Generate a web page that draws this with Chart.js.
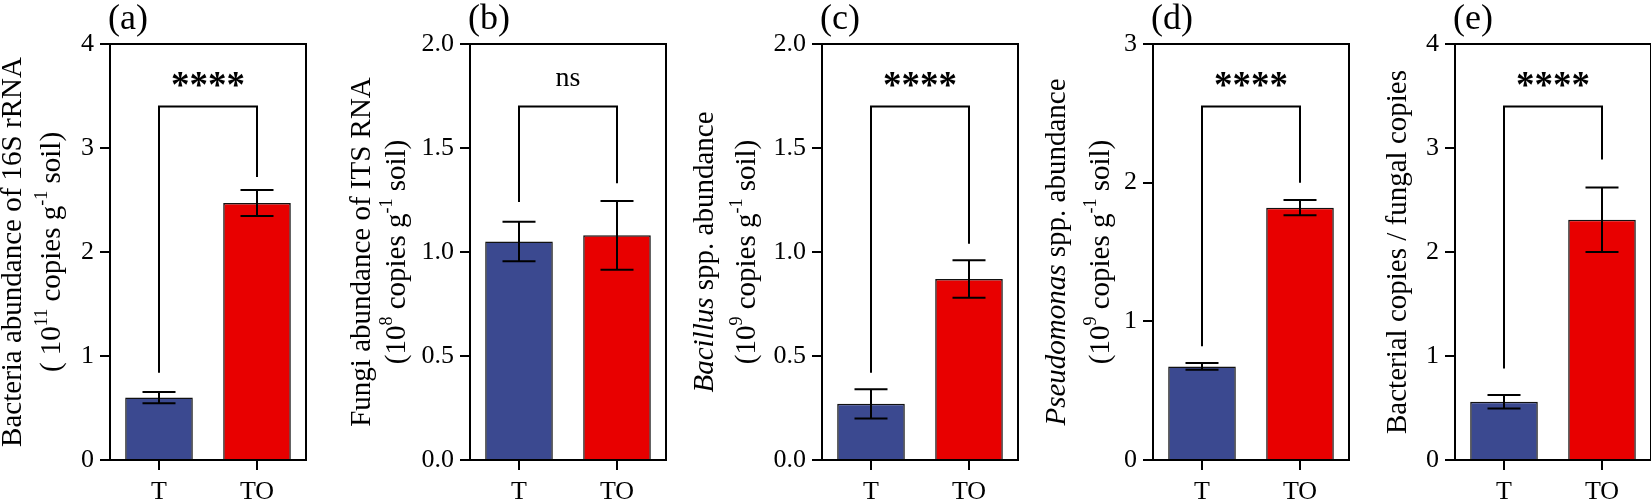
<!DOCTYPE html>
<html>
<head>
<meta charset="utf-8">
<script src="https://cdn.jsdelivr.net/npm/chart.js@4.4.1/dist/chart.umd.min.js"></script>
<style>
  html, body { margin: 0; padding: 0; background: #fff; }
  #wrap { position: relative; width: 1651px; height: 500px; overflow: hidden; }
  #wrap canvas { position: absolute; top: 0; }
</style>
</head>
<body>
<div id="wrap"></div>
<script>
// ---- data ----
const groups = ['T', 'TO'];
const panelLabels = ['(a)', '(b)', '(c)', '(d)', '(e)'];

const bacteriaMean = [0.60, 2.47];
const bacteriaErr  = [0.055, 0.125];
const fungiMean    = [1.05, 1.08];
const fungiErr     = [0.095, 0.165];
const bacillusMean = [0.27, 0.87];
const bacillusErr  = [0.07, 0.09];
const pseudoMean   = [0.675, 1.82];
const pseudoErr    = [0.025, 0.055];
const ratioMean    = [0.56, 2.31];
const ratioErr     = [0.065, 0.31];

const yMax  = [4, 2, 2, 3, 4];
const yStep = [1, 0.5, 0.5, 1, 1];
const yDecimals = [0, 1, 1, 0, 0];

// bracket: top, left foot, right foot
const bracketTop   = [3.40, 1.70, 1.70, 2.55, 3.40];
const bracketLeft  = [0.84, 1.24, 0.42, 0.82, 0.88];
const bracketRight = [2.72, 1.33, 1.04, 2.00, 2.89];
const sigLabels = ['****', 'ns', '****', '****', '****'];

const yTitles = [
  ['Bacteria abundance of 16S rRNA', '( 10<sup>11</sup> copies g<sup>-1</sup> soil)'],
  ['Fungi abundance of ITS RNA', '(10<sup>8</sup> copies g<sup>-1</sup> soil)'],
  ['<i>Bacillus</i> spp. abundance', '(10<sup>9</sup> copies g<sup>-1</sup> soil)'],
  ['<i>Pseudomonas</i> spp. abundance', '(10<sup>9</sup> copies g<sup>-1</sup> soil)'],
  ['Bacterial copies / fungal copies']
];

const means = [bacteriaMean, fungiMean, bacillusMean, pseudoMean, ratioMean];
const errs  = [bacteriaErr, fungiErr, bacillusErr, pseudoErr, ratioErr];

// ---- layout ----
const SERIF = "'Liberation Serif', 'Times New Roman', serif";
const AXIS_W = 150, PLOT_W = 195;
const plotLefts = [110, 470, 822, 1153, 1455];
const titleOffsets = [[-97, -58], [-108, -73], [-117, -75], [-96, -52], [-57]];
const BLUE = '#3b4990', RED = '#e80000';

function segments(str) {
  return str.split(/(<i>.*?<\/i>|<sup>.*?<\/sup>)/).filter(s => s).map(s => {
    if (s.startsWith('<i>')) return { t: s.slice(3, -4), it: true };
    if (s.startsWith('<sup>')) return { t: s.slice(5, -6), sup: true };
    return { t: s };
  });
}

const decoPlugin = {
  id: 'deco',
  afterDatasetsDraw(chart, args, o) {
    const ctx = chart.ctx, a = chart.chartArea, y = chart.scales.y;
    const meta = chart.getDatasetMeta(0);
    ctx.save();
    ctx.strokeStyle = '#000';
    ctx.lineWidth = 2;
    // error bars
    meta.data.forEach((bar, i) => {
      const top = y.getPixelForValue(o.mean[i] + o.err[i]);
      const bot = y.getPixelForValue(o.mean[i] - o.err[i]);
      ctx.beginPath();
      ctx.moveTo(bar.x, top); ctx.lineTo(bar.x, bot);
      ctx.moveTo(bar.x - 16.5, top); ctx.lineTo(bar.x + 16.5, top);
      ctx.moveTo(bar.x - 16.5, bot); ctx.lineTo(bar.x + 16.5, bot);
      ctx.stroke();
    });
    // significance bracket
    const x0 = meta.data[0].x, x1 = meta.data[1].x;
    const yt = y.getPixelForValue(o.bracket[0]);
    ctx.beginPath();
    ctx.moveTo(x0, y.getPixelForValue(o.bracket[1]));
    ctx.lineTo(x0, yt);
    ctx.lineTo(x1, yt);
    ctx.lineTo(x1, y.getPixelForValue(o.bracket[2]));
    ctx.stroke();
    ctx.fillStyle = '#000';
    ctx.textAlign = 'center';
    ctx.textBaseline = 'alphabetic';
    if (o.sig === 'ns') {
      ctx.font = '28px ' + SERIF;
      ctx.fillText(o.sig, (x0 + x1) / 2, yt - 20);
    } else {
      ctx.font = 'bold 37px ' + SERIF;
      ctx.fillText(o.sig, (x0 + x1) / 2, yt - 9);
    }
    // frame
    ctx.strokeRect(a.left, a.top, a.right - a.left, a.bottom - a.top);

    // panel label
    ctx.textAlign = 'left';
    ctx.font = '36px ' + SERIF;
    ctx.fillText(o.label, a.left - 2, 29);

    // y title lines
    const cy = (a.top + a.bottom) / 2;
    o.title.forEach((line, li) => {
      const segs = segments(line);
      const fontOf = s => s.sup ? '18px ' + SERIF : (s.it ? 'italic ' : '') + '29px ' + SERIF;
      let total = 0;
      segs.forEach(s => { ctx.font = fontOf(s); s.w = ctx.measureText(s.t).width; total += s.w; });
      ctx.save();
      ctx.translate(a.left + o.titleX[li], cy);
      ctx.rotate(-Math.PI / 2);
      ctx.textBaseline = 'middle';
      ctx.textAlign = 'left';
      let cx = -total / 2;
      segs.forEach(s => {
        ctx.font = fontOf(s);
        ctx.fillText(s.t, cx, s.sup ? -10 : 0);
        cx += s.w;
      });
      ctx.restore();
    });
    ctx.restore();
  }
};

const wrap = document.getElementById('wrap');

for (let p = 0; p < 5; p++) {
  const canvas = document.createElement('canvas');
  canvas.width = AXIS_W + PLOT_W + 3;
  canvas.height = 500;
  canvas.style.left = (plotLefts[p] - AXIS_W) + 'px';
  wrap.appendChild(canvas);

  new Chart(canvas, {
    type: 'bar',
    data: {
      labels: groups,
      datasets: [{
        data: means[p],
        backgroundColor: [BLUE, RED],
        borderColor: '#111',
        borderWidth: 1.5,
        barPercentage: 0.69,
        categoryPercentage: 1.0
      }]
    },
    plugins: [decoPlugin],
    options: {
      responsive: false,
      animation: false,
      layout: { padding: { top: 44, right: 2, left: 0, bottom: 0 } },
      plugins: {
        legend: { display: false },
        tooltip: { enabled: false },
        deco: {
          mean: means[p], err: errs[p],
          bracket: [bracketTop[p], bracketLeft[p], bracketRight[p]],
          sig: sigLabels[p], label: panelLabels[p],
          title: yTitles[p], titleX: titleOffsets[p]
        }
      },
      scales: {
        x: {
          afterFit: s => { s.height = 40; },
          grid: { offset: false, drawOnChartArea: false, tickLength: 10, color: '#000', lineWidth: 2 },
          border: { display: true, color: '#000', width: 2 },
          ticks: { color: '#000', padding: 7, font: { family: SERIF, size: 26 } }
        },
        y: {
          min: 0, max: yMax[p],
          afterFit: s => { s.width = AXIS_W; },
          grid: { drawOnChartArea: false, tickLength: 10, color: '#000', lineWidth: 2 },
          border: { display: true, color: '#000', width: 2 },
          ticks: {
            stepSize: yStep[p], color: '#000', padding: 6,
            font: { family: SERIF, size: 26 },
            callback: v => Number(v).toFixed(yDecimals[p])
          }
        }
      }
    }
  });
}
</script>
</body>
</html>
